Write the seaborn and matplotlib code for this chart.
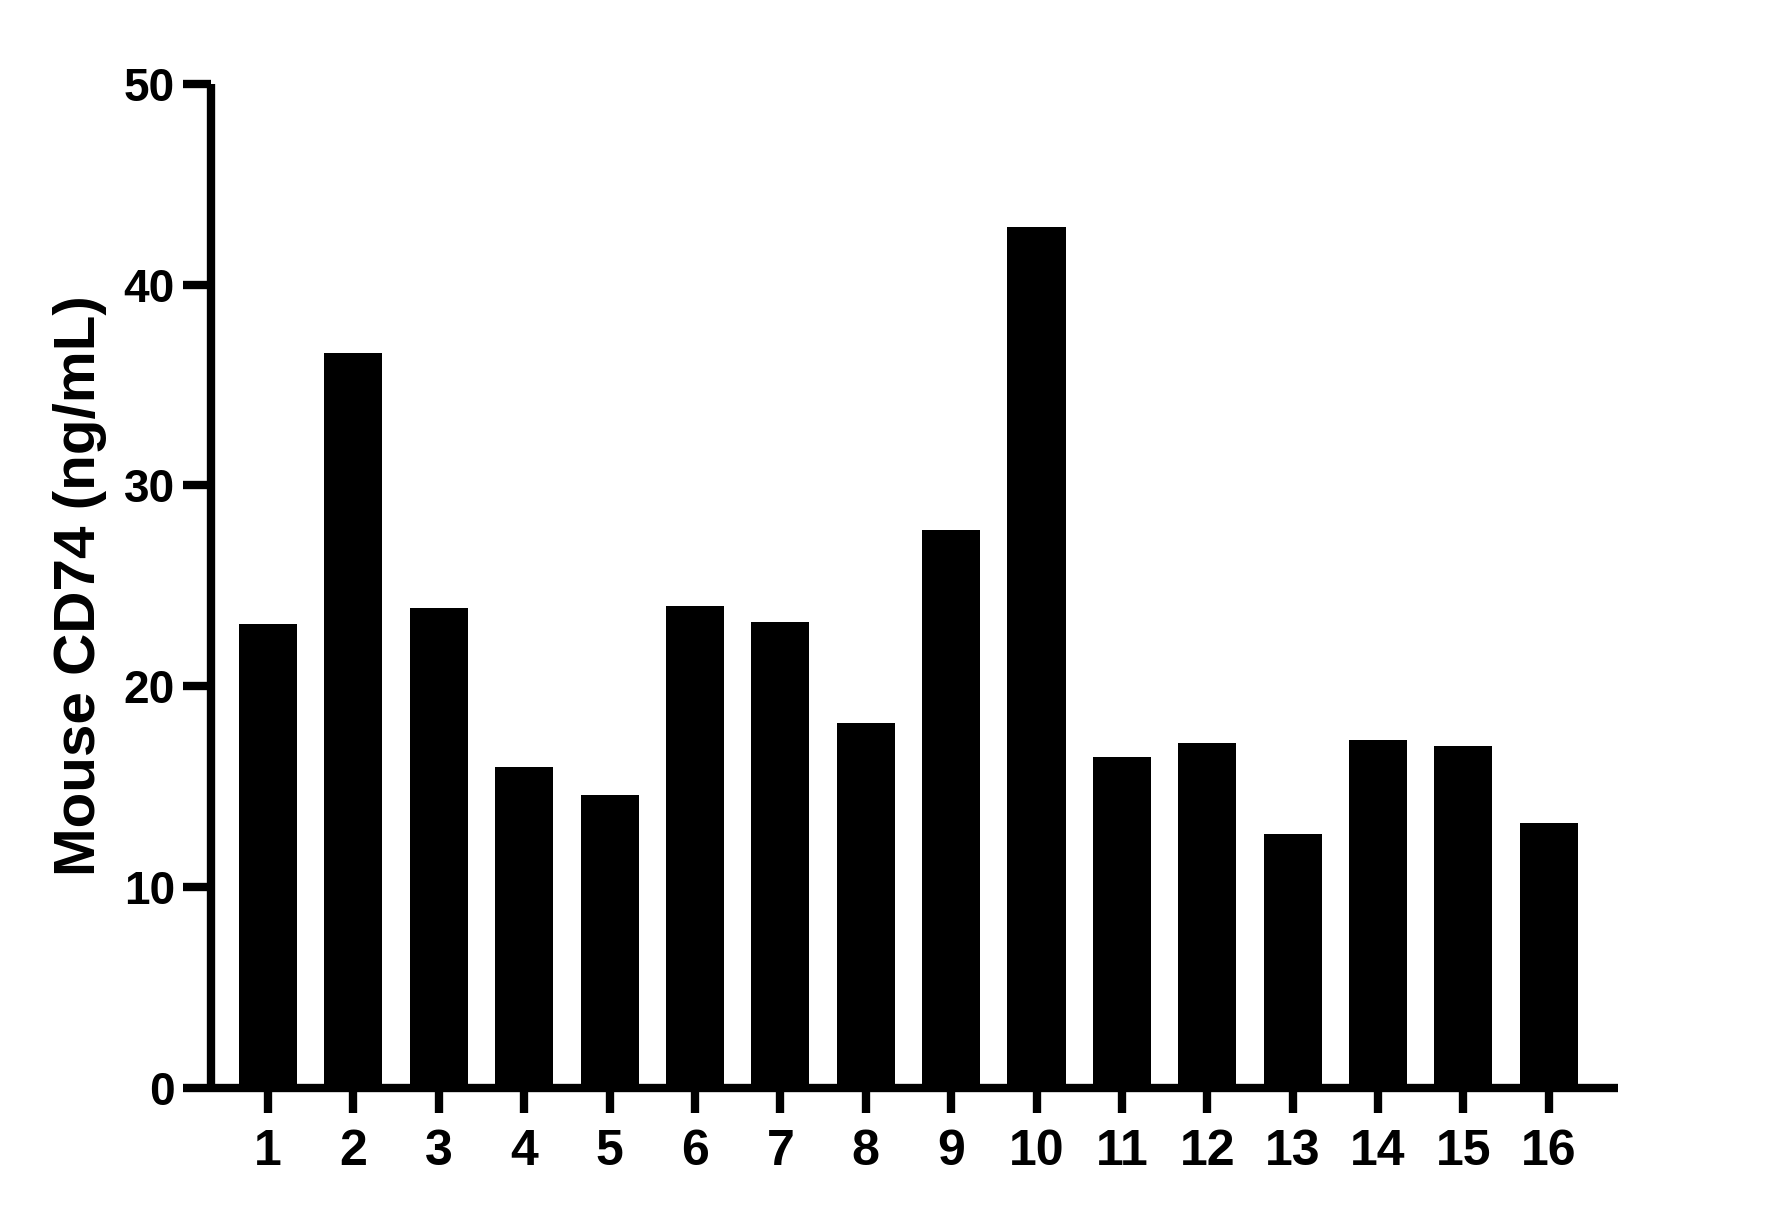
import matplotlib
matplotlib.use("Agg")
import matplotlib.pyplot as plt
import seaborn as sns
import pandas as pd

samples = [str(i) for i in range(1, 17)]
values = [23.1, 36.6, 23.9, 16.0, 14.57, 24.0, 23.2, 18.16, 27.8, 42.9,
          16.47, 17.16, 12.63, 17.31, 17.01, 13.18]
y_ticks = [0, 10, 20, 30, 40, 50]
y_label = "Mouse CD74 (ng/mL)"

sns.set_theme(style="ticks")
plt.rcParams['font.family'] = ['Liberation Sans', 'DejaVu Sans']
plt.rcParams['text.color'] = 'black'
plt.rcParams['axes.labelcolor'] = 'black'
plt.rcParams['xtick.color'] = 'black'
plt.rcParams['ytick.color'] = 'black'

df = pd.DataFrame({"sample": samples, "value": values})

fig = plt.figure(figsize=(17.66, 12.18), dpi=100)
ax = fig.add_axes([0.1195, 0.107, 0.7967, 0.824])
sns.barplot(data=df, x="sample", y="value", color="black", width=0.68,
            saturation=1, edgecolor="black", linewidth=0, ax=ax)

ax.set_ylim(0, 50)
ax.set_xlim(-0.667, 15.81)
ax.set_yticks(y_ticks)
ax.set_yticklabels([str(t) for t in y_ticks])
ax.set_xlabel("")
ax.set_ylabel(y_label, fontsize=42, fontweight="bold", labelpad=12, color="black")

for s in ["top", "right"]:
    ax.spines[s].set_visible(False)
for s in ["left", "bottom"]:
    ax.spines[s].set_linewidth(6)
    ax.spines[s].set_color("black")
    ax.spines[s].set_capstyle("butt")

ax.tick_params(axis="y", length=20, width=6, color="black", pad=6,
               labelsize=33, labelcolor="black")
ax.tick_params(axis="x", length=18, width=6, color="black", pad=12,
               labelsize=36, labelcolor="black")
for lab in ax.get_xticklabels() + ax.get_yticklabels():
    lab.set_fontweight("bold")

fig.savefig("out.png", dpi=100, facecolor="white")
